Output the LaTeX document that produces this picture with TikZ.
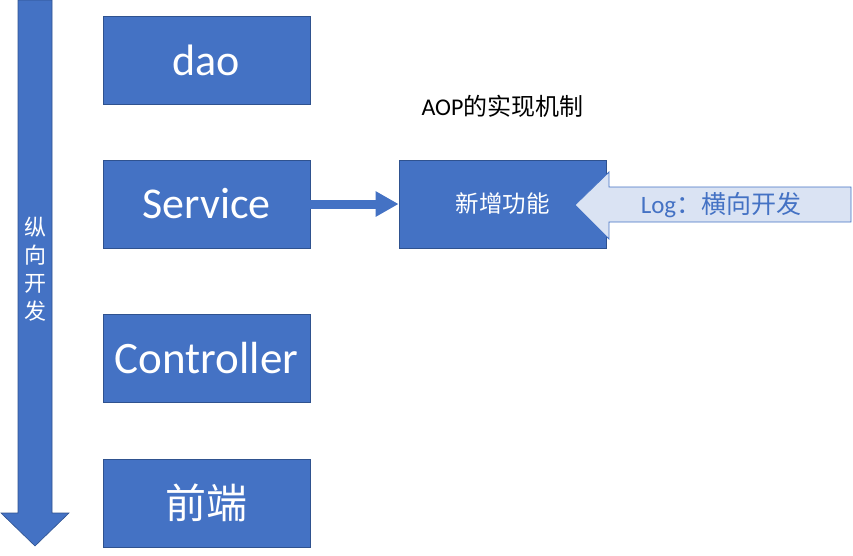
\documentclass[tikz,border=0pt]{standalone}
\usepackage{fontspec}
\setmainfont{Carlito}
\newfontfamily\cjk{Noto Sans CJK SC}
\usetikzlibrary{arrows.meta}
\definecolor{boxblue}{HTML}{4472C4}
\definecolor{boxline}{HTML}{2F528F}
\definecolor{lightblue}{HTML}{DAE3F3}
\begin{document}
\begin{tikzpicture}[x=1pt,y=-1pt,
  layerbox/.style={draw=boxline, line width=0.8pt, fill=boxblue, text=white,
    minimum width=207pt, minimum height=88pt, inner sep=0pt, font=\fontsize{44}{48}\selectfont},
  aopbox/.style={layerbox, font=\cjk\fontsize{23.5}{26}\selectfont}]
\useasboundingbox (0,0) rectangle (853,555);
% vertical development arrow
\fill[boxblue, draw=boxline, line width=0.6pt] (18,0) -- (52,0) -- (52,513) -- (69,513) -- (35,546) -- (1,513) -- (18,513) -- cycle;
\node[text=white, align=center, inner sep=0pt, font=\cjk\fontsize{22}{28}\selectfont] (vlabel) at (35,269) {纵\\向\\开\\发};
% layer boxes
\node[layerbox] (dao) at (206.5,60) {dao};
\node[layerbox] (svc) at (206.5,204) {Service};
\node[layerbox, font=\fontsize{45}{48}\selectfont] (ctl) at (206.5,358) {Controller};
\node[layerbox, font=\cjk\fontsize{41}{46}\selectfont] (fe) at (206.5,503) {前端};
% AOP
\node[font=\fontsize{24}{26}\selectfont, inner sep=0pt] (title) at (502.5,106) {AOP{\cjk 的实现机制}};
\node[aopbox] (new) at (502.5,204) {新增功能};
\draw[boxblue, line width=9pt, -{Triangle[length=23pt,width=24pt]}] (svc.east) -- (new.west);
% horizontal Log arrow
\filldraw[fill=lightblue, draw=boxblue, line width=0.8pt] (575,205) -- (609,172) -- (609,187) -- (851,187) -- (851,222) -- (609,222) -- (609,239) -- cycle;
\node[text=boxblue, inner sep=0pt, font=\fontsize{25}{28}\selectfont] (log) at (721,205) {Log{\cjk ：横向开发}};
\end{tikzpicture}
\end{document}
